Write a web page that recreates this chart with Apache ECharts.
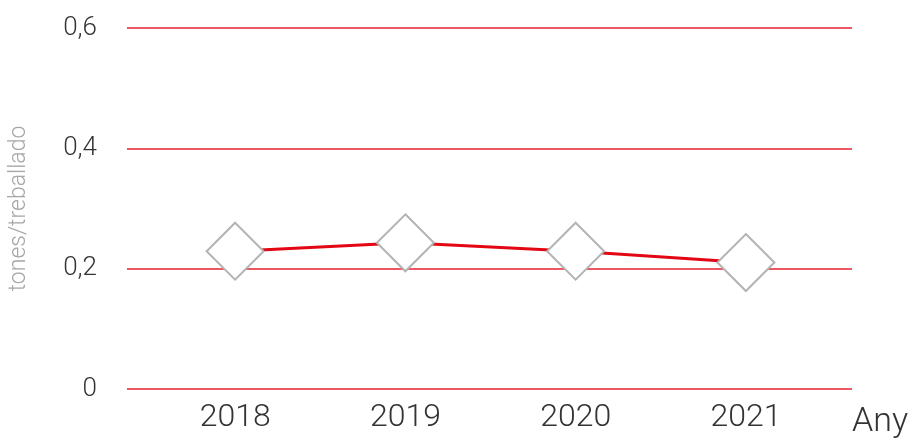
<!DOCTYPE html>
<html>
<head>
<meta charset="utf-8">
<script src="https://cdn.jsdelivr.net/npm/echarts@6/dist/echarts.min.js"></script>
<style>
  html, body { margin: 0; padding: 0; background: #fff; }
  #chart { width: 922px; height: 439px; }
</style>
</head>
<body>
<div id="chart"></div>
<script>
var years = ['2018', '2019', '2020', '2021'];
var tonesPerWorker = [0.227, 0.241, 0.227, 0.208];
var yTicks = { min: 0, max: 0.6, interval: 0.2 };

var FONT = 'Roboto';

var chart = echarts.init(document.getElementById('chart'));

chart.setOption({
    animation: false,
    grid: [
        // background grid, only used for the red horizontal lines
        { left: 127, right: 70, top: 28, bottom: 50 },
        // data grid, a bit narrower so points sit where the reference has them
        { left: 150, right: 91, top: 28, bottom: 50 }
    ],
    xAxis: [
        { gridIndex: 0, type: 'category', data: years, show: false },
        {
            gridIndex: 1,
            type: 'category',
            data: years,
            boundaryGap: true,
            axisLine: { show: false },
            axisTick: { show: false },
            axisLabel: {
                margin: 15,
                fontFamily: FONT,
                fontWeight: 300,
                fontSize: 32,
                color: '#333'
            },
            name: 'Any',
            nameLocation: 'end',
            nameGap: 21,
            nameTextStyle: {
                fontFamily: FONT,
                fontWeight: 300,
                fontSize: 34,
                color: '#333',
                verticalAlign: 'top',
                padding: [18, 0, 0, 0]
            }
        }
    ],
    yAxis: [
        {
            gridIndex: 0,
            type: 'value',
            min: yTicks.min,
            max: yTicks.max,
            interval: yTicks.interval,
            axisLine: { show: false },
            axisTick: { show: false },
            splitLine: { lineStyle: { color: '#e4202f', width: 1.5 } },
            axisLabel: {
                margin: 30,
                fontFamily: FONT,
                fontWeight: 300,
                fontSize: 26,
                color: '#333',
                formatter: function (v) {
                    return String(Math.round(v * 10) / 10).replace('.', ',');
                }
            },
            name: 'tones/treballado',
            nameLocation: 'middle',
            nameGap: 96,
            nameRotate: 90,
            nameTextStyle: {
                fontFamily: FONT,
                fontWeight: 300,
                fontSize: 23,
                color: '#a6a6a6'
            }
        },
        {
            gridIndex: 1,
            type: 'value',
            min: yTicks.min,
            max: yTicks.max,
            interval: yTicks.interval,
            show: false
        }
    ],
    series: [
        {
            type: 'line',
            xAxisIndex: 1,
            yAxisIndex: 1,
            data: tonesPerWorker,
            lineStyle: { color: '#e30613', width: 3 },
            symbol: 'diamond',
            symbolSize: [57, 57],
            showAllSymbol: true,
            itemStyle: { color: '#fff', borderColor: '#b3b3b3', borderWidth: 2 },
            z: 3
        }
    ]
});
</script>
</body>
</html>
